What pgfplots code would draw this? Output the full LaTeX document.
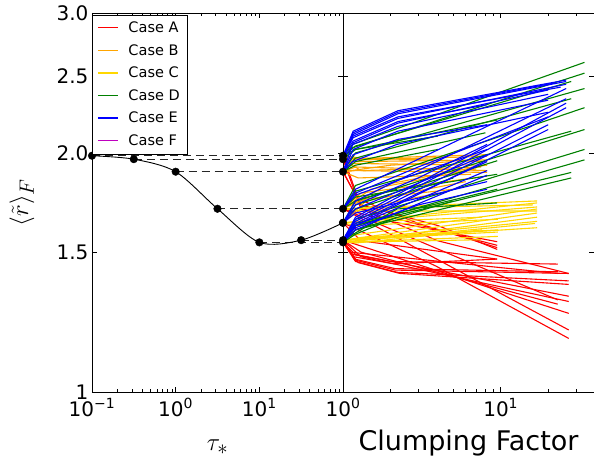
\documentclass[border=0pt]{standalone}
\usepackage{pgfplots}
\pgfplotsset{compat=1.18}
\usepackage{fontspec}
\setmainfont{DejaVu Sans}
\definecolor{cOrange}{HTML}{FFA500}
\definecolor{cGold}{HTML}{FFD700}
\definecolor{cGreen}{HTML}{008000}
\definecolor{cPurple}{HTML}{BF00BF}
\tikzset{
  cA/.style={draw=red, line width=1.1pt},
  cB/.style={draw=cOrange, line width=1.1pt},
  cC/.style={draw=cGold, line width=1.1pt},
  cD/.style={draw=cGreen, line width=1.1pt},
  cE/.style={draw=blue, line width=1.1pt},
  dsh/.style={draw=black!85, line width=1pt, dash pattern=on 8pt off 5pt},
}
\begin{document}
\begin{tikzpicture}
\path[use as bounding box] (-92pt,-69pt) rectangle (502pt,392pt);
% ---------------- left panel ----------------
\begin{axis}[
  scale only axis, width=251pt, height=379pt,
  at={(0pt,0pt)}, anchor=south west,
  xmode=log, ymode=log,
  xmin=0.1, xmax=100, ymin=1, ymax=3,
  enlargelimits=false, clip=false,
  xtick={0.1,1,10,100},
  xticklabels={10\textsuperscript{−1},10\textsuperscript{0},10\textsuperscript{1},{}},
  minor xtick={0.2,0.3,0.4,0.5,0.6,0.7,0.8,0.9,2,3,4,5,6,7,8,9,20,30,40,50,60,70,80,90},
  ytick={1,1.5,2,2.5,3},
  yticklabels={1,1.5,2.0,2.5,3.0},
  minor ytick={},
  major tick length=5pt, minor tick length=3pt,
  tick style={black, line width=0.6pt},
  axis line style={black, line width=0.9pt},
  tick label style={font=\fontsize{20}{24}\selectfont},
  xticklabel style={yshift=-3pt},
  xlabel={$\tau_*$},
  ylabel={$\langle\tilde{r}\rangle_F$},
  x label style={at={(axis description cs:0.5,-0.155)}, anchor=base, font=\fontsize{28}{32}\selectfont},
  y label style={at={(axis description cs:-0.279,0.5)}, anchor=center, font=\fontsize{28}{32}\selectfont},
  legend style={at={(0,0.996)}, anchor=north west,
    font=\fontsize{14.5}{17}\selectfont, row sep=6.3pt, inner xsep=5pt, inner ysep=5pt,
    /tikz/every odd column/.append style={column sep=8pt}},
  legend cell align=left,
]
\addlegendimage{legend image code/.code={\draw[red,line width=1.3pt] (0pt,0pt) -- (20pt,0pt);}}\addlegendentry{Case A}
\addlegendimage{legend image code/.code={\draw[cOrange,line width=1.3pt] (0pt,0pt) -- (20pt,0pt);}}\addlegendentry{Case B}
\addlegendimage{legend image code/.code={\draw[cGold,line width=1.3pt] (0pt,0pt) -- (20pt,0pt);}}\addlegendentry{Case C}
\addlegendimage{legend image code/.code={\draw[cGreen,line width=1.3pt] (0pt,0pt) -- (20pt,0pt);}}\addlegendentry{Case D}
\addlegendimage{legend image code/.code={\draw[blue,line width=1.3pt] (0pt,0pt) -- (20pt,0pt);}}\addlegendentry{Case E}
\addlegendimage{legend image code/.code={\draw[cPurple,line width=1.3pt] (0pt,0pt) -- (20pt,0pt);}}\addlegendentry{Case F}
% dashed guide lines
\addplot[dsh] coordinates {(0.1,1.984) (100,1.984)};
\addplot[dsh] coordinates {(0.316,1.964) (100,1.964)};
\addplot[dsh] coordinates {(1,1.894) (100,1.894)};
\addplot[dsh] coordinates {(3.16,1.701) (100,1.701)};
\addplot[dsh] coordinates {(10,1.543) (100,1.543)};
\addplot[dsh] coordinates {(31.6,1.553) (100,1.553)};
% curve
\addplot[black, line width=0.9pt, smooth] coordinates {
 (0.1,1.984) (0.316,1.964) (1,1.894) (3.16,1.701) (10,1.543) (31.6,1.553) (100,1.633)};
\addplot[only marks, mark=*, mark size=3.8pt, black] coordinates {
 (0.1,1.984) (0.316,1.964) (1,1.894) (3.16,1.701) (10,1.543) (31.6,1.553) (100,1.633)};
\end{axis}
% ---------------- right panel ----------------
\begin{axis}[
  scale only axis, width=251pt, height=379pt,
  at={(251pt,0pt)}, anchor=south west,
  xmode=log, ymode=log,
  xmin=1, xmax=39.05, ymin=1, ymax=3,
  enlargelimits=false, clip=false,
  xtick={1,10},
  xticklabels={10\textsuperscript{0},10\textsuperscript{1}},
  minor xtick={2,3,4,5,6,7,8,9,20,30},
  ytick={1,1.5,2,2.5,3},
  yticklabels={},
  minor ytick={},
  major tick length=5pt, minor tick length=3pt,
  tick style={black, line width=0.6pt},
  axis line style={black, line width=0.9pt},
  tick label style={font=\fontsize{20}{24}\selectfont},
  xticklabel style={yshift=-3pt},
  xlabel={Clumping Factor},
  x label style={at={(axis description cs:0.5,-0.155)}, anchor=base, font=\fontsize{27}{32}\selectfont},
]
% Case A
\addplot[cA] coordinates {(1,1.553)(1.19,1.466)(2.14,1.424)(27,1.41)};
\addplot[cA] coordinates {(1,1.553)(1.19,1.47)(2.14,1.43)(23,1.417)};
\addplot[cA] coordinates {(1,1.543)(1.17,1.48)(2.1,1.45)(9.5,1.47)};
\addplot[cA] coordinates {(1,1.543)(1.2,1.46)(2.2,1.415)(27,1.38)};
\addplot[cA] coordinates {(1,1.553)(1.15,1.49)(2.0,1.46)(23,1.449)};
\addplot[cA] coordinates {(1,1.543)(1.25,1.455)(2.3,1.41)(27,1.366)};
\addplot[cA] coordinates {(1,1.633)(3.9,1.44)(27,1.168)};
\addplot[cA] coordinates {(1,1.701)(27,1.197)};
\addplot[cA] coordinates {(1,1.553)(1.3,1.50)(23,1.29)};
\addplot[cA] coordinates {(1,1.701)(23,1.306)};
\addplot[cA] coordinates {(1,1.553)(27,1.256)};
\addplot[cA] coordinates {(1,1.543)(1.2,1.49)(27,1.32)};
\addplot[cA] coordinates {(1,1.701)(2,1.64)(9.5,1.546)};
\addplot[cA] coordinates {(1,1.894)(1.34,1.70)(3.95,1.60)(9.5,1.53)};
\addplot[cA] coordinates {(1,1.894)(1.3,1.72)(4,1.62)(9.5,1.512)};
\addplot[cA] coordinates {(1,1.984)(1.25,1.75)(3,1.63)(9.5,1.52)};
\addplot[cA] coordinates {(1,1.964)(1.3,1.70)(4,1.55)(27,1.41)};
\addplot[cA] coordinates {(1,1.553)(1.1,1.50)(23,1.41)};
\addplot[cA] coordinates {(1,1.553)(1.3,1.48)(27,1.30)};
\addplot[cA] coordinates {(1,1.633)(1.3,1.55)(9.5,1.47)};
% Case B
\addplot[cB] coordinates {(1,1.984)(1.2,1.96)(8.2,1.98)};
\addplot[cB] coordinates {(1,1.964)(1.2,1.95)(8.2,1.96)};
\addplot[cB] coordinates {(1,1.984)(1.15,1.94)(8.2,1.93)};
\addplot[cB] coordinates {(1,1.894)(1.2,1.92)(8.2,1.90)};
\addplot[cB] coordinates {(1,1.894)(1.2,1.90)(8.2,1.89)};
\addplot[cB] coordinates {(1,1.964)(1.3,1.90)(7.5,1.92)};
\addplot[cB] coordinates {(1,1.701)(1.3,1.78)(8.2,1.87)};
\addplot[cB] coordinates {(1,1.701)(1.5,1.80)(7,1.91)};
\addplot[cB] coordinates {(1,1.633)(1.4,1.74)(6,1.84)};
\addplot[cB] coordinates {(1,1.894)(2,1.93)(5,1.95)};
\addplot[cB] coordinates {(1,1.984)(1.3,1.97)(8.2,1.95)};
\addplot[cB] coordinates {(1,1.894)(1.25,1.86)(6.5,1.88)};
\addplot[cB] coordinates {(1,1.701)(1.4,1.75)(5,1.80)};
\addplot[cB] coordinates {(1,1.633)(1.3,1.70)(4,1.78)};
\addplot[cB] coordinates {(1,1.964)(1.5,1.97)(8.2,1.99)};
\addplot[cB] coordinates {(1,1.701)(2,1.83)(8,1.93)};
% Case C
\addplot[cC] coordinates {(1,1.553)(17,1.61)};
\addplot[cC] coordinates {(1,1.553)(17,1.64)};
\addplot[cC] coordinates {(1,1.543)(17,1.66)};
\addplot[cC] coordinates {(1,1.553)(17,1.68)};
\addplot[cC] coordinates {(1,1.633)(17,1.71)};
\addplot[cC] coordinates {(1,1.633)(17,1.73)};
\addplot[cC] coordinates {(1,1.701)(17,1.74)};
\addplot[cC] coordinates {(1,1.543)(9.6,1.57)};
\addplot[cC] coordinates {(1,1.553)(9.6,1.59)};
\addplot[cC] coordinates {(1,1.543)(7.5,1.555)};
\addplot[cC] coordinates {(1,1.553)(1.2,1.54)(7.6,1.60)};
\addplot[cC] coordinates {(1,1.633)(7.6,1.66)};
\addplot[cC] coordinates {(1,1.701)(16,1.72)};
\addplot[cC] coordinates {(1,1.543)(16.5,1.63)};
\addplot[cC] coordinates {(1,1.553)(1.15,1.575)(17,1.70)};
\addplot[cC] coordinates {(1,1.701)(1.3,1.69)(17,1.69)};
\addplot[cC] coordinates {(1,1.633)(1.2,1.62)(9.6,1.65)};
\addplot[cC] coordinates {(1,1.543)(1.3,1.565)(9.6,1.60)};
% Case D
\addplot[cD] coordinates {(1,1.984)(1.15,2.05)(34,2.60)};
\addplot[cD] coordinates {(1,1.964)(1.15,2.03)(34,2.52)};
\addplot[cD] coordinates {(1,1.894)(1.2,2.00)(34,2.41)};
\addplot[cD] coordinates {(1,1.701)(1.2,1.82)(34,2.28)};
\addplot[cD] coordinates {(1,1.633)(1.2,1.74)(34,2.14)};
\addplot[cD] coordinates {(1,1.553)(1.2,1.65)(34,2.02)};
\addplot[cD] coordinates {(1,1.543)(1.2,1.62)(34,1.96)};
\addplot[cD] coordinates {(1,1.984)(1.2,2.04)(28,2.46)};
\addplot[cD] coordinates {(1,1.894)(1.2,1.97)(28,2.34)};
\addplot[cD] coordinates {(1,1.701)(1.2,1.79)(28,2.13)};
\addplot[cD] coordinates {(1,1.553)(1.2,1.62)(28,1.89)};
\addplot[cD] coordinates {(1,1.543)(1.2,1.60)(28,1.86)};
\addplot[cD] coordinates {(1,1.633)(1.2,1.72)(9.5,1.955)};
\addplot[cD] coordinates {(1,1.553)(1.2,1.63)(9.5,1.80)};
\addplot[cD] coordinates {(1,1.701)(1.2,1.76)(9.5,1.88)};
\addplot[cD] coordinates {(1,1.553)(2.2,1.70)(9.5,1.73)};
\addplot[cD] coordinates {(1,1.964)(1.2,2.02)(9.5,2.20)};
\addplot[cD] coordinates {(1,1.894)(1.2,1.95)(8,2.12)};
\addplot[cD] coordinates {(1,1.633)(1.2,1.70)(5,1.86)};
\addplot[cD] coordinates {(1,1.553)(1.2,1.60)(5,1.74)};
\addplot[cD] coordinates {(1,1.701)(1.2,1.74)(2.2,1.80)};
\addplot[cD] coordinates {(1,1.543)(1.2,1.58)(2.2,1.66)};
\addplot[cD] coordinates {(1,1.894)(1.2,1.93)(4,2.02)};
\addplot[cD] coordinates {(1,1.984)(1.2,2.02)(4,2.10)};
% Case E
\addplot[cE] coordinates {(1,1.984)(1.16,2.13)(2.23,2.26)(26,2.47)};
\addplot[cE] coordinates {(1,1.964)(1.16,2.11)(2.23,2.24)(26,2.46)};
\addplot[cE] coordinates {(1,1.984)(1.16,2.09)(2.23,2.21)(26,2.44)};
\addplot[cE] coordinates {(1,1.894)(1.16,2.06)(2.23,2.18)(20,2.40)};
\addplot[cE] coordinates {(1,1.964)(1.16,2.05)(2.23,2.16)(20,2.37)};
\addplot[cE] coordinates {(1,1.894)(1.16,2.02)(2.23,2.13)(20,2.33)};
\addplot[cE] coordinates {(1,1.984)(1.16,2.07)(2.23,2.19)(8.2,2.30)};
\addplot[cE] coordinates {(1,1.894)(1.16,1.99)(2.23,2.08)(8.2,2.17)};
\addplot[cE] coordinates {(1,1.701)(1.2,1.80)(26,2.41)};
\addplot[cE] coordinates {(1,1.633)(1.2,1.74)(26,2.34)};
\addplot[cE] coordinates {(1,1.553)(1.2,1.66)(26,2.31)};
\addplot[cE] coordinates {(1,1.553)(1.2,1.64)(20,2.17)};
\addplot[cE] coordinates {(1,1.543)(1.2,1.62)(20,2.14)};
\addplot[cE] coordinates {(1,1.633)(1.2,1.70)(8.2,1.99)};
\addplot[cE] coordinates {(1,1.553)(1.2,1.62)(8.2,1.90)};
\addplot[cE] coordinates {(1,1.543)(1.2,1.60)(8.2,1.875)};
\addplot[cE] coordinates {(1,1.701)(1.2,1.77)(8.2,2.02)};
\addplot[cE] coordinates {(1,1.633)(1.2,1.68)(8.2,1.84)};
\addplot[cE] coordinates {(1,1.894)(1.15,1.95)(2.2,2.05)(20,2.25)};
\addplot[cE] coordinates {(1,1.553)(1.2,1.61)(3,1.72)(8.2,1.80)};
\addplot[cE] coordinates {(1,1.964)(1.16,2.12)(2.23,2.25)(22,2.45)};
\addplot[cE] coordinates {(1,1.984)(1.16,2.10)(2.23,2.22)(24,2.42)};
\addplot[cE] coordinates {(1,1.701)(1.2,1.78)(3,1.92)(20,2.22)};
\addplot[cE] coordinates {(1,1.633)(1.2,1.72)(3,1.86)(8.2,2.05)};
\addplot[cE] coordinates {(1,1.543)(1.2,1.63)(3,1.78)(8.2,1.95)};
\addplot[cE] coordinates {(1,1.553)(1.2,1.65)(2.5,1.78)(26,2.28)};
% start points
\addplot[only marks, mark=*, mark size=3.8pt, black] coordinates {
 (1,1.984) (1,1.964) (1,1.894) (1,1.701) (1,1.633) (1,1.553) (1,1.543)};
\end{axis}
\end{tikzpicture}
\end{document}
